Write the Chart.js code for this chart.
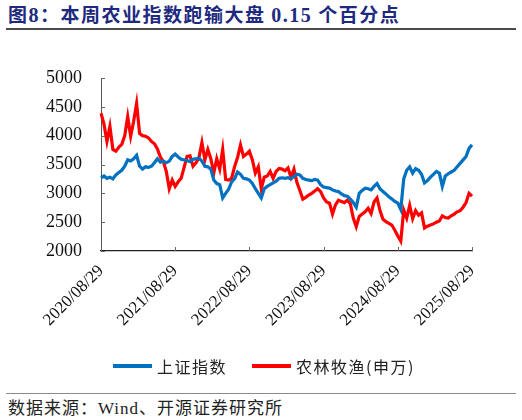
<!DOCTYPE html>
<html>
<head>
<meta charset="utf-8">
<script src="https://cdn.jsdelivr.net/npm/chart.js@4.4.1/dist/chart.umd.min.js"></script>
<style>
  body { margin: 0; width: 522px; height: 420px; background: #fff; position: relative; overflow: hidden; }
  #title { position: absolute; left: 8px; top: 3px; font: bold 19px "Noto Sans CJK SC", sans-serif; color: #1e2a80; letter-spacing: 1.5px; line-height: 22px; white-space: nowrap; }
  #title .num { font-family: "Liberation Serif", serif; font-size: 20px; }
  .rule { position: absolute; left: 6px; width: 510px; }
  #rule1 { top: 28px; height: 2px; background: #4a4a4a; }
  #rule2 { top: 393px; height: 1px; background: #8a8a8a; }
  #source { position: absolute; left: 8px; top: 396px; font: 17px "Noto Sans CJK SC", sans-serif; color: #222; letter-spacing: 1px; line-height: 22px; white-space: nowrap; }
  #source .lat { font-family: "Liberation Serif", serif; }
  #wrap { position: absolute; left: 0; top: 40px; width: 522px; height: 350px; }
  .key { position: absolute; top: 364px; width: 39px; height: 4px; }
  .keytxt { position: absolute; top: 355px; font: 16px "Noto Sans CJK SC", sans-serif; color: #222; letter-spacing: 1.5px; line-height: 22px; white-space: nowrap; }
</style>
</head>
<body>
<div id="title">图<span class="num">8</span>：本周农业指数跑输大盘 <span class="num">0.15</span> 个百分点</div>
<div class="rule" id="rule1"></div>
<div id="wrap"><canvas id="chart1"></canvas></div>
<div id="legend"></div>
<div class="rule" id="rule2"></div>
<div id="source">数据来源：<span class="lat">Wind</span>、开源证券研究所</div>

<script>
// 坐标轴刻度
const tickLabels = ['2020/08/29', '2021/08/29', '2022/08/29', '2023/08/29', '2024/08/29', '2025/08/29'];
const tickEvery = 25;

// 上证指数（约每两周一个点，从图上读取）
const shIndex = [
  3270, 3300, 3260, 3280, 3250, 3320, 3360, 3400, 3470, 3580,
  3560, 3600, 3660, 3470, 3420, 3460, 3450, 3470, 3530, 3600,
  3540, 3560, 3530, 3560, 3640, 3680, 3630, 3590, 3580, 3570,
  3550, 3590, 3600, 3610, 3560, 3470, 3460, 3420, 3230, 3170,
  3150, 2920, 3000, 3070, 3200, 3250, 3370, 3330, 3260, 3250,
  3230, 3170, 3080, 3000, 2920, 3080, 3120, 3150, 3180, 3210,
  3260, 3270, 3260, 3270, 3250, 3290, 3330, 3320, 3260, 3240,
  3230, 3220, 3240, 3230, 3150, 3110, 3100, 3090, 3060, 3040,
  3030, 2990, 2960, 2950, 2900, 2840, 2760, 3000, 3050, 3090,
  3080, 3060, 3120, 3170, 3080, 3030, 2990, 2940, 2900, 2860,
  2830, 2720, 3250, 3400, 3460, 3350, 3430, 3400, 3330, 3180,
  3220, 3280, 3330, 3380, 3350, 3120, 3300, 3340, 3370, 3400,
  3460, 3520, 3580, 3640, 3780, 3840
];

// 农林牧渔(申万)
const agriIndex = [
  4390, 4200, 3900, 4160, 3760, 3730, 3800, 3850, 4000, 4330,
  3990, 4250, 4560, 4040, 4000, 3990, 3960, 3900, 3860, 3770,
  3630, 3550, 3380, 3080, 3230, 3120, 3200, 3260, 3450, 3640,
  3650, 3470, 3530, 3620, 3880, 3580, 3760, 3600, 3350, 3600,
  3420, 3760, 3240, 3230, 3260, 3460, 3620, 3840, 3640, 3680,
  3730, 3580, 3350, 3460, 3080, 3280, 3300, 3380, 3260, 3380,
  3430, 3420, 3390, 3440, 3280, 3420, 3190, 3050, 2900, 2930,
  2970, 3000, 3040, 3080, 3030, 2920, 2850, 2830, 2640, 2800,
  2880, 2860, 2840, 2880, 2820, 2570, 2420, 2600, 2640, 2680,
  2740, 2650, 2850, 2920, 2700, 2550, 2510, 2480, 2450, 2360,
  2260, 2170, 2710, 2570, 2790, 2560, 2700, 2620, 2660, 2400,
  2430, 2450, 2470, 2500, 2520, 2610, 2580, 2570, 2610, 2640,
  2680, 2700, 2760, 2840, 3000, 2950
];

const seriesNames = ['上证指数', '农林牧渔(申万)'];
const seriesColors = ['#0070c0', '#ff0000'];

const categories = shIndex.map((v, i) => i);

// 图例（按原图位置放在图下方）
const legendPos = [[113, 157], [252, 296]];
let legendHtml = '';
seriesNames.forEach((name, k) => {
  legendHtml += `<div class="key" style="left:${legendPos[k][0]}px;background:${seriesColors[k]}"></div>
    <div class="keytxt" style="left:${legendPos[k][1]}px">${name}</div>`;
});
document.getElementById('legend').innerHTML = legendHtml;

// 向内的短刻度线
const innerTicks = {
  id: 'innerTicks',
  afterDraw(chart) {
    const c = chart.ctx, x = chart.scales.x, y = chart.scales.y;
    c.save();
    c.strokeStyle = '#666';
    c.lineWidth = 1;
    c.beginPath();
    categories.forEach((v, i) => {
      if (i % tickEvery !== 0) return;
      const px = Math.round(x.getPixelForValue(i)) + 0.5;
      c.moveTo(px, y.bottom);
      c.lineTo(px, y.bottom - 4);
    });
    y.ticks.forEach(t => {
      const py = Math.round(y.getPixelForValue(t.value)) + 0.5;
      c.moveTo(x.left, py);
      c.lineTo(x.left + 4, py);
    });
    c.stroke();
    c.restore();
  }
};

var ctx1 = document.getElementById('chart1').getContext('2d');
var chart1 = new Chart(ctx1, {
  type: 'line',
  data: {
    labels: categories,
    datasets: [{
      label: seriesNames[0],
      data: shIndex,
      borderColor: seriesColors[0],
      borderWidth: 3.2,
      pointRadius: 0,
      tension: 0
    }, {
      label: seriesNames[1],
      data: agriIndex,
      borderColor: seriesColors[1],
      borderWidth: 3.2,
      pointRadius: 0,
      tension: 0
    }]
  },
  options: {
    responsive: true,
    maintainAspectRatio: false,
    animation: false,
    layout: { padding: { top: 38, right: 50, bottom: 39, left: 0 } },
    plugins: {
      legend: { display: false },
      tooltip: { enabled: false }
    },
    scales: {
      x: {
        grid: { display: false, drawTicks: false },
        border: { color: '#222', width: 1.2 },
        afterFit: s => { s.height = 100; },
        ticks: {
          autoSkip: false,
          minRotation: 45,
          maxRotation: 45,
          padding: 10,
          color: '#111',
          font: { family: '"Liberation Serif", serif', size: 17 },
          callback: (v, i) => (i % tickEvery === 0 ? tickLabels[i / tickEvery] : '')
        }
      },
      y: {
        min: 2000,
        max: 5000,
        grid: { display: false, drawTicks: false },
        border: { color: '#555', width: 1 },
        afterFit: s => { s.width = 101; },
        ticks: {
          stepSize: 500,
          padding: 19,
          color: '#111',
          font: { family: '"Liberation Serif", serif', size: 18 },
          callback: v => String(v)
        }
      }
    }
  },
  plugins: [innerTicks]
});
</script>
</body>
</html>
